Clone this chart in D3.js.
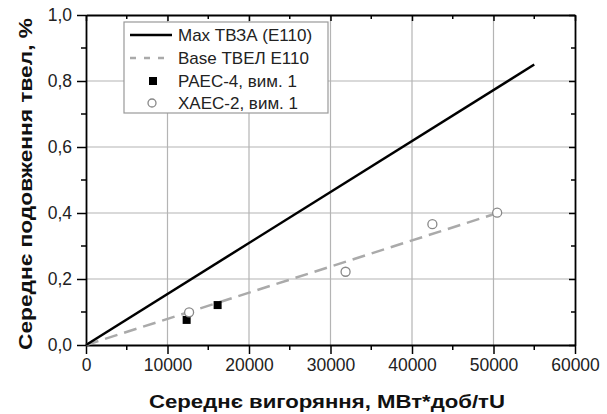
<!DOCTYPE html>
<html>
<head>
<meta charset="utf-8">
<script src="https://cdn.jsdelivr.net/npm/d3@7"></script>
<style>
  body { margin: 0; background: #fff; }
  svg { font-family: Arial, "Liberation Sans", sans-serif; }
</style>
</head>
<body>
<svg id="chart" width="607" height="414"></svg>
<script>
// data
var maxLine = [[0, 0], [55000, 0.85]];
var baseLine = [[0, 0], [50500, 0.4]];
var raesX = [12350, 16150];
var raesY = [0.076, 0.121];
var khaesX = [12650, 31850, 42500, 50450];
var khaesY = [0.099, 0.222, 0.366, 0.401];
var xTicks = [0, 10000, 20000, 30000, 40000, 50000, 60000];
var yTicks = [0, 0.2, 0.4, 0.6, 0.8, 1.0];
var legendLabels = ["Max ТВЗА (E110)", "Base ТВЕЛ Е110", "РАЕС-4, вим. 1", "ХАЕС-2, вим. 1"];

var svg = d3.select("#chart");
var pLeft = 86, pRight = 575, pTop = 15, pBottom = 345;

var x = d3.scaleLinear().domain([0, 60000]).range([pLeft, pRight]);
var y = d3.scaleLinear().domain([0, 1]).range([pBottom, pTop]);

var fmtY = function (d) { return d3.format(".1f")(d).replace(".", ","); };
var minorX = d3.range(5000, 60000, 10000);
var minorY = [0.1, 0.3, 0.5, 0.7, 0.9];

// grid
svg.append("g").selectAll("line").data(xTicks.slice(1, -1)).enter().append("line")
  .attr("x1", x).attr("x2", x).attr("y1", pTop).attr("y2", pBottom)
  .style("stroke", "#b4b4b4").style("stroke-width", 1.2);
svg.append("g").selectAll("line").data(yTicks.slice(1, -1)).enter().append("line")
  .attr("y1", y).attr("y2", y).attr("x1", pLeft).attr("x2", pRight)
  .style("stroke", "#b4b4b4").style("stroke-width", 1.2);

// axes
var xAxis = svg.append("g").attr("transform", "translate(0," + pBottom + ")")
  .call(d3.axisBottom(x).tickValues(xTicks).tickFormat(d3.format("d")).tickSizeInner(9).tickSizeOuter(0).tickPadding(5));
var yAxis = svg.append("g").attr("transform", "translate(" + pLeft + ",0)")
  .call(d3.axisLeft(y).tickValues(yTicks).tickFormat(fmtY).tickSizeInner(9).tickSizeOuter(0).tickPadding(5));
var xTop = svg.append("g").attr("transform", "translate(0," + pTop + ")")
  .call(d3.axisTop(x).tickValues(xTicks).tickFormat("").tickSizeInner(-6).tickSizeOuter(0));
var yRight = svg.append("g").attr("transform", "translate(" + pRight + ",0)")
  .call(d3.axisRight(y).tickValues(yTicks).tickFormat("").tickSizeInner(-6).tickSizeOuter(0));

[xAxis, yAxis, xTop, yRight].forEach(function (g) {
  g.select(".domain").style("stroke", "#000").style("stroke-width", 1.8);
  g.selectAll(".tick line").style("stroke", "#000").style("stroke-width", 1.5);
  g.selectAll("text").style("font-size", "17.5px").style("fill", "#222");
});

// minor ticks
svg.append("g").selectAll("line").data(minorX).enter().append("line")
  .attr("x1", x).attr("x2", x).attr("y1", pBottom).attr("y2", pBottom + 5)
  .style("stroke", "#000").style("stroke-width", 1.5);
svg.append("g").selectAll("line").data(minorX).enter().append("line")
  .attr("x1", x).attr("x2", x).attr("y1", pTop).attr("y2", pTop + 4)
  .style("stroke", "#000").style("stroke-width", 1.5);
svg.append("g").selectAll("line").data(minorY).enter().append("line")
  .attr("y1", y).attr("y2", y).attr("x1", pLeft - 5).attr("x2", pLeft)
  .style("stroke", "#000").style("stroke-width", 1.5);
svg.append("g").selectAll("line").data(minorY).enter().append("line")
  .attr("y1", y).attr("y2", y).attr("x1", pRight - 4).attr("x2", pRight)
  .style("stroke", "#000").style("stroke-width", 1.5);

// lines
var line = d3.line().x(function (d) { return x(d[0]); }).y(function (d) { return y(d[1]); });
svg.append("path").attr("d", line(baseLine))
  .style("fill", "none").style("stroke", "#aaaaaa").style("stroke-width", 2.5)
  .style("stroke-dasharray", "13,7");
svg.append("path").attr("d", line(maxLine))
  .style("fill", "none").style("stroke", "#000").style("stroke-width", 2.5);

// points
svg.append("g").selectAll("rect").data(raesX).enter().append("rect")
  .attr("x", function (d) { return x(d) - 4; })
  .attr("y", function (d, i) { return y(raesY[i]) - 4; })
  .attr("width", 8).attr("height", 8).style("fill", "#000");
svg.append("g").selectAll("circle").data(khaesX).enter().append("circle")
  .attr("cx", function (d) { return x(d); })
  .attr("cy", function (d, i) { return y(khaesY[i]); })
  .attr("r", 4.5).style("fill", "#fff").style("stroke", "#888").style("stroke-width", 1.3);

// legend
var lg = svg.append("g");
lg.append("rect").attr("x", 124).attr("y", 22).attr("width", 204).attr("height", 91)
  .style("fill", "#fff").style("stroke", "#999").style("stroke-width", 1.2);
var rowY = [35, 58, 81, 103];
lg.append("line").attr("x1", 130).attr("x2", 172).attr("y1", rowY[0]).attr("y2", rowY[0])
  .style("stroke", "#000").style("stroke-width", 2.5);
lg.append("line").attr("x1", 130).attr("x2", 172).attr("y1", rowY[1]).attr("y2", rowY[1])
  .style("stroke", "#aaaaaa").style("stroke-width", 2.5).style("stroke-dasharray", "6,8");
lg.append("rect").attr("x", 149).attr("y", rowY[2] - 4).attr("width", 8).attr("height", 8).style("fill", "#000");
lg.append("circle").attr("cx", 152).attr("cy", rowY[3]).attr("r", 4)
  .style("fill", "#fff").style("stroke", "#888").style("stroke-width", 1.3);
lg.selectAll("text.lab").data(legendLabels).enter().append("text").attr("class", "lab")
  .attr("x", 178).attr("y", function (d, i) { return rowY[i]; }).attr("dy", "0.36em")
  .style("font-size", "17px").style("fill", "#222").text(function (d) { return d; });

// axis titles
svg.append("text").attr("x", 327).attr("y", 408)
  .attr("text-anchor", "middle").style("font-size", "19px").style("font-weight", "bold")
  .attr("textLength", 356).attr("lengthAdjust", "spacingAndGlyphs")
  .style("fill", "#111").text("Середнє вигоряння, МВт*доб/тU");
svg.append("text").attr("transform", "translate(32,184) rotate(-90)")
  .attr("text-anchor", "middle").style("font-size", "19px").style("font-weight", "bold")
  .attr("textLength", 332).attr("lengthAdjust", "spacingAndGlyphs")
  .style("fill", "#111").text("Середнє подовження твел, %");
</script>
</body>
</html>
